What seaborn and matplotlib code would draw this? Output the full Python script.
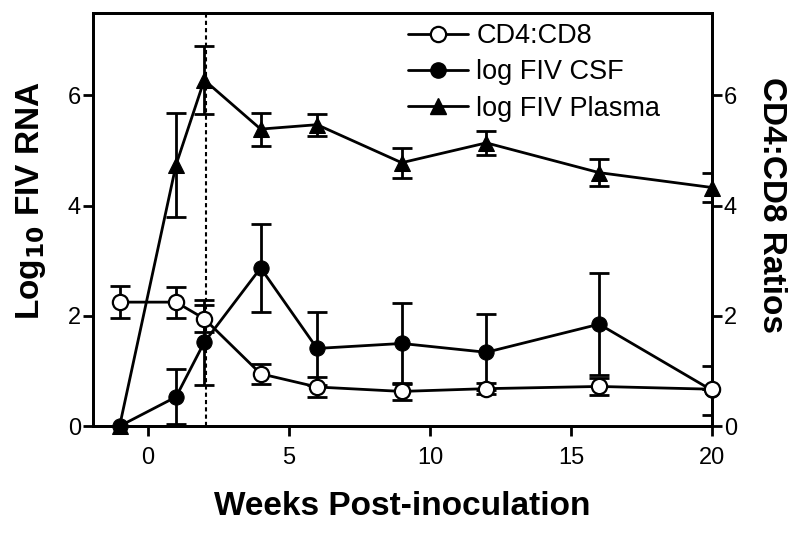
import numpy as np
import matplotlib
matplotlib.use('Agg')
import matplotlib.pyplot as plt
from matplotlib.lines import Line2D
import seaborn as sns
import pandas as pd

# weeks post-inoculation
weeks = [-1, 1, 2, 4, 6, 9, 12, 16, 20]

# log FIV RNA in plasma (left axis)
plasma = [0.0, 4.74, 6.28, 5.39, 5.47, 4.78, 5.14, 4.60, 4.33]
plasma_err = [0.0, 0.95, 0.62, 0.30, 0.20, 0.27, 0.22, 0.24, 0.27]

# log FIV RNA in CSF (left axis)
csf = [0.0, 0.53, 1.52, 2.87, 1.41, 1.50, 1.34, 1.85, 0.65]
csf_err = [0.0, 0.50, 0.77, 0.80, 0.67, 0.73, 0.69, 0.92, 0.45]

# CD4:CD8 ratios (right axis)
cd4cd8 = [2.25, 2.25, 1.95, 0.95, 0.71, 0.63, 0.68, 0.72, 0.67]
cd4cd8_err = [0.29, 0.28, 0.25, 0.18, 0.18, 0.15, 0.10, 0.15, 0.0]

x_ticks = [0, 5, 10, 15, 20]
y_ticks = [0, 2, 4, 6]

sns.set_style('ticks')
plt.rcParams['font.family'] = ['Liberation Sans', 'DejaVu Sans']
plt.rcParams['text.color'] = 'black'
plt.rcParams['axes.labelcolor'] = 'black'

df = pd.DataFrame({'week': weeks, 'plasma': plasma, 'csf': csf, 'ratio': cd4cd8})

fig = plt.figure(figsize=(8, 5.34), dpi=100)
ax = fig.add_axes([0.116, 0.202, 0.774, 0.774])
ax2 = ax.twinx()

lw = 2
ms = 11

# error bars first so markers sit on top
ax.errorbar(weeks, plasma, yerr=plasma_err, fmt='none', ecolor='black', elinewidth=lw, capsize=7, capthick=lw, zorder=2)
ax.errorbar(weeks, csf, yerr=csf_err, fmt='none', ecolor='black', elinewidth=lw, capsize=7, capthick=lw, zorder=2)
ax2.errorbar(weeks, cd4cd8, yerr=cd4cd8_err, fmt='none', ecolor='black', elinewidth=lw, capsize=7, capthick=lw, zorder=2)

sns.lineplot(data=df, x='week', y='plasma', ax=ax, color='black', lw=lw, marker='^', markersize=ms + 1,
             markerfacecolor='black', markeredgecolor='black', zorder=3, clip_on=False)
sns.lineplot(data=df, x='week', y='csf', ax=ax, color='black', lw=lw, marker='o', markersize=ms,
             markerfacecolor='black', markeredgecolor='black', zorder=4, clip_on=False)
sns.lineplot(data=df, x='week', y='ratio', ax=ax2, color='black', lw=lw, marker='o', markersize=ms,
             markerfacecolor='white', markeredgecolor='black', markeredgewidth=1.6, zorder=3, clip_on=False)

# dashed line at week 2
ax.axvline(2.05, color='black', lw=1.5, ls=(0, (2, 1.5)), zorder=1)

ax.set_xlim(-1.95, 20)
ax.set_ylim(0, 7.5)
ax2.set_ylim(0, 7.5)
ax.set_xticks(x_ticks)
ax.set_yticks(y_ticks)
ax2.set_yticks(y_ticks)

for a in (ax, ax2):
    for s in a.spines.values():
        s.set_linewidth(2)
        s.set_color('black')
    a.tick_params(width=2, length=7, labelsize=17, colors='black', pad=1.5)
ax.tick_params(axis='x', pad=8)

ax.set_xlabel('Weeks Post-inoculation', fontsize=24, fontweight='bold', labelpad=16, color='black')
ax.set_ylabel('Log$_{\\mathbf{10}}$ FIV RNA', fontsize=24, fontweight='bold', labelpad=14, color='black')
ax2.set_ylabel('CD4:CD8 Ratios', fontsize=24, fontweight='bold', rotation=270, labelpad=36, color='black')
ax.yaxis.label.set_y(0.545)
ax2.yaxis.label.set_y(0.535)

handles = [
    Line2D([], [], color='black', lw=lw, marker='o', markersize=ms, markerfacecolor='white', markeredgewidth=1.6),
    Line2D([], [], color='black', lw=lw, marker='o', markersize=ms, markerfacecolor='black'),
    Line2D([], [], color='black', lw=lw, marker='^', markersize=ms + 1, markerfacecolor='black'),
]
ax2.legend(handles, ['CD4:CD8', 'log FIV CSF', 'log FIV Plasma'], loc='upper left',
           bbox_to_anchor=(0.509, 0.975), frameon=False, fontsize=19.5, handlelength=2.2,
           handletextpad=0.33, labelspacing=0.38, borderpad=0, borderaxespad=0, labelcolor='black')

fig.savefig('out.png', dpi=100)
